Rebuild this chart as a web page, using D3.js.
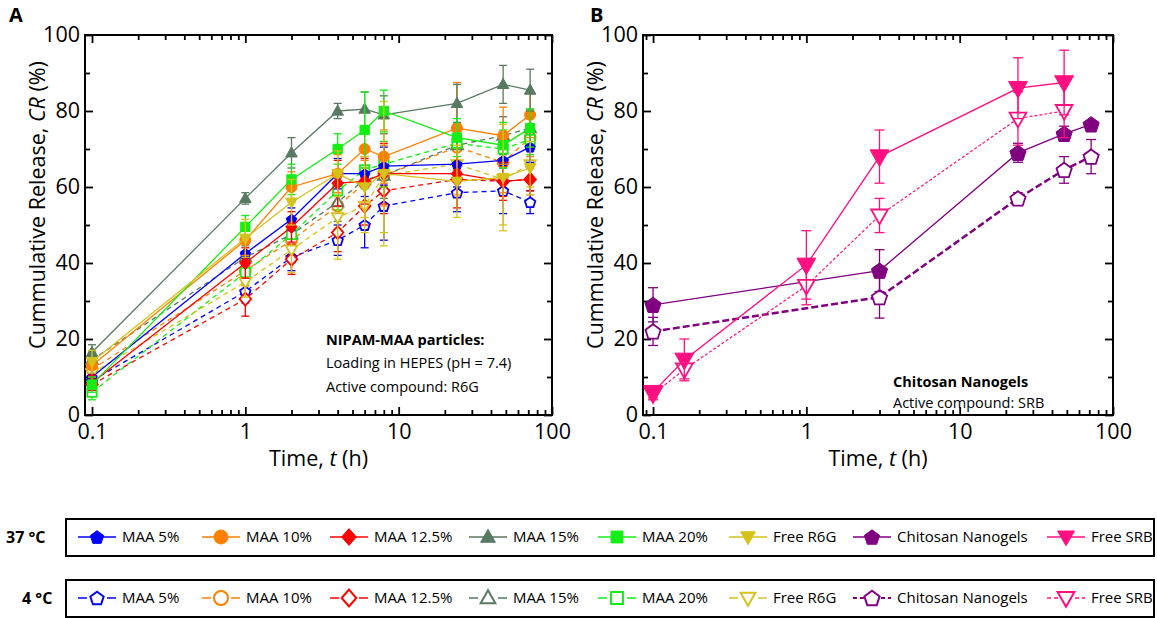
<!DOCTYPE html>
<html>
<head>
<meta charset="utf-8">
<script src="https://cdn.jsdelivr.net/npm/d3@7"></script>
<style>
    body { margin: 0; background: #fff; }
    svg { font-family: "Open Sans", sans-serif; }
</style>
</head>
<body>
<svg id="chart" width="1157" height="618"></svg>
<script>
// ---- data ----
const timesA = [0.1, 1, 2, 4, 6, 8, 24, 48, 72];

// 37 C, NIPAM-MAA particles
const maa5 = [10, 42.5, 51.5, 63.5, 63.5, 65.5, 66, 67, 70.5];
const maa5Err = [2, 3, 3, 4, 6, 5, 6, 6, 4];
const maa10 = [13, 46, 60, 63.5, 70, 68, 75.5, 73.5, 79];
const maa10Err = [3, 4, 4, 5, 5, 7, 12, 7.5, 6];
const maa125 = [8.5, 40, 49.5, 61, 61.5, 63.5, 63.5, 61.5, 62];
const maa125Err = [2, 4, 4, 6, 6, 8, 9, 5, 4];
const maa15 = [16.5, 57, 69, 80, 80.5, 79, 82, 87, 85.5];
const maa15Err = [2, 1.5, 4, 2, 4.5, 5, 5, 5, 5.5];
const maa20 = [8, 49.5, 62, 70, 75, 80, 73, 71, 75.5];
const maa20Err = [2, 3, 4, 4, 10, 5.5, 5, 6, 5];
const r6g = [14, 46.5, 56, 63.5, 60, 63.5, 61.5, 62.5, 65];
const r6gErr = [3, 5, 6, 6, 8, 19, 9.5, 14, 7];

// 4 C
const maa5Cold = [9, 32.5, 41.5, 46, 50, 55, 58.5, 59, 56];
const maa5ColdErr = [2, 3, 3.5, 4, 6, 9, 5, 6, 3];
const maa10Cold = [12, 38, 46, 55, 61, 63, 70.5, 66.5, 73];
const maa10ColdErr = [3, 4, 5, 6, 6, 8, 6, 8, 5];
const maa125Cold = [8, 30.5, 41, 48, 55, 59, 62, 61.5, 62];
const maa125ColdErr = [2, 4.5, 4, 5, 5, 6, 4, 4, 3];
const maa15Cold = [14.5, 41.5, 47.5, 56, 62, 63, 71, 73.5, 75.5];
const maa15ColdErr = [2, 3, 4, 5, 6, 6, 5, 5, 5];
const maa20Cold = [6, 37.5, 47.5, 59, 64.5, 66, 71.5, 70, 72.5];
const maa20ColdErr = [2, 3, 4, 5, 5, 6, 5, 5, 4];
const r6gCold = [11, 35, 43.5, 52, 55, 63, 66, 62, 66];
const r6gColdErr = [3, 4, 6, 11, 7, 15, 8, 12, 6];

// panel B
const timesSRB = [0.1, 0.16, 1, 3, 24, 48];
const srb = [6, 14.5, 39.5, 68, 86, 87.5];
const srbErr = [1.5, 5.5, 9, 7, 8, 8.5];
const srbCold = [5.5, 12, 34, 52.5, 78, 80];
const srbColdErr = [1.5, 2.5, 5, 4.5, 7, 7];
const timesChi = [0.1, 3, 24, 48, 72];
const chi = [29, 38, 69, 74, 76.5];
const chiErr = [4.5, 5.5, 2.5, 2, 0.5];
const chiCold = [22, 31, 57, 64.5, 68];
const chiColdErr = [3.7, 5.5, 1.5, 3.5, 4.5];

const legendNames = ['MAA 5%', 'MAA 10%', 'MAA 12.5%', 'MAA 15%', 'MAA 20%', 'Free R6G', 'Chitosan Nanogels', 'Free SRB'];
const xMajor = [0.1, 1, 10, 100];
const yMajor = [0, 20, 40, 60, 80, 100];
const yMinor = [10, 30, 50, 70, 90];

// ---- styles ----
const colors = {
    blue: '#0000ff', orange: '#ff8000', red: '#ff0000', gray: '#587a62',
    green: '#14ee14', yellow: '#d6c21c', purple: '#800080', pink: '#ff1080'
};

const svg = d3.select('#chart');

function shapePath(shape, r) {
    let pts;
    if (shape === 'circle') {
        return `M${-r},0A${r},${r} 0 1,0 ${r},0A${r},${r} 0 1,0 ${-r},0Z`;
    } else if (shape === 'pentagon') {
        pts = d3.range(5).map(i => {
            const a = -Math.PI / 2 + i * 2 * Math.PI / 5;
            return [r * Math.cos(a), r * Math.sin(a) + r * 0.1];
        });
    } else if (shape === 'diamond') {
        pts = [[0, -r * 1.2], [r * 1.05, 0], [0, r * 1.2], [-r * 1.05, 0]];
    } else if (shape === 'triangle') {
        pts = [[0, -r * 1.1], [r * 1.05, r * 0.75], [-r * 1.05, r * 0.75]];
    } else if (shape === 'triangleDown') {
        pts = [[0, r * 1.1], [r * 1.05, -r * 0.75], [-r * 1.05, -r * 0.75]];
    } else { // square
        const h = r * 0.85;
        pts = [[-h, -h], [h, -h], [h, h], [-h, h]];
    }
    return 'M' + pts.map(p => p.map(v => v.toFixed(2)).join(',')).join('L') + 'Z';
}

function drawSeries(g, x, y, s) {
    const pts = s.t.map((t, i) => ({t: t, v: s.v[i], e: s.e[i]}));
    const eb = g.append('g').attr('stroke', s.color).attr('stroke-width', 1.3);
    eb.selectAll('line.v').data(pts).join('line')
        .attr('x1', d => x(d.t)).attr('x2', d => x(d.t))
        .attr('y1', d => y(d.v - d.e)).attr('y2', d => y(d.v + d.e));
    eb.selectAll('line.top').data(pts).join('line')
        .attr('x1', d => x(d.t) - s.cap).attr('x2', d => x(d.t) + s.cap)
        .attr('y1', d => y(d.v + d.e)).attr('y2', d => y(d.v + d.e));
    eb.selectAll('line.bot').data(pts).join('line')
        .attr('x1', d => x(d.t) - s.cap).attr('x2', d => x(d.t) + s.cap)
        .attr('y1', d => y(d.v - d.e)).attr('y2', d => y(d.v - d.e));

    g.append('path').datum(pts)
        .attr('d', d3.line().x(d => x(d.t)).y(d => y(d.v)))
        .attr('fill', 'none')
        .attr('stroke', s.color)
        .attr('stroke-width', s.width)
        .attr('stroke-dasharray', s.dash);

    g.append('g').selectAll('path').data(pts).join('path')
        .attr('transform', d => `translate(${x(d.t)},${y(d.v)})`)
        .attr('d', shapePath(s.shape, s.r))
        .attr('fill', s.open ? '#fff' : s.color)
        .attr('stroke', s.color)
        .attr('stroke-width', s.open ? 1.8 : 1);
}

function drawAxes(g, x, y) {
    const [x0, x1] = x.range();
    const [y0, y1] = y.range();
    let xMinor = [];
    for (const d of [0.01, 0.1, 1, 10]) {
        for (let k = 2; k <= 9; k++) {
            const v = d * k;
            if (v > x.domain()[0] && v < x.domain()[1]) xMinor.push(v);
        }
    }
    const fmt = d => String(d);
    const style = a => {
        a.select('.domain').remove();
        a.selectAll('.tick line').attr('stroke', '#000').attr('stroke-width', 1.8);
        a.attr('font-family', '"Open Sans", sans-serif').attr('font-size', 21.5);
        a.selectAll('text').attr('fill', '#000');
    };
    g.append('g').attr('transform', `translate(0,${y0})`)
        .call(d3.axisBottom(x).tickValues(xMajor).tickFormat(fmt).tickSize(-8).tickPadding(9)).call(style);
    g.append('g').attr('transform', `translate(0,${y0})`)
        .call(d3.axisBottom(x).tickValues(xMinor).tickFormat('').tickSize(-5)).call(style);
    g.append('g').attr('transform', `translate(0,${y1})`)
        .call(d3.axisTop(x).tickValues(xMajor).tickFormat('').tickSize(-8)).call(style);
    g.append('g').attr('transform', `translate(0,${y1})`)
        .call(d3.axisTop(x).tickValues(xMinor).tickFormat('').tickSize(-5)).call(style);
    g.append('g').attr('transform', `translate(${x0},0)`)
        .call(d3.axisLeft(y).tickValues(yMajor).tickSize(-8).tickPadding(5)).call(style);
    g.append('g').attr('transform', `translate(${x0},0)`)
        .call(d3.axisLeft(y).tickValues(yMinor).tickFormat('').tickSize(-5)).call(style);
    g.append('g').attr('transform', `translate(${x1},0)`)
        .call(d3.axisRight(y).tickValues(yMajor).tickFormat('').tickSize(-8)).call(style);
    g.append('g').attr('transform', `translate(${x1},0)`)
        .call(d3.axisRight(y).tickValues(yMinor).tickFormat('').tickSize(-5)).call(style);

    g.append('rect')
        .attr('x', x0).attr('y', y1).attr('width', x1 - x0).attr('height', y0 - y1)
        .attr('fill', 'none').attr('stroke', '#000').attr('stroke-width', 2);

    // axis titles
    const cx = (x0 + x1) / 2;
    const xt = g.append('text').attr('x', cx).attr('y', y0 + 51)
        .attr('text-anchor', 'middle').attr('font-size', 21.5);
    xt.append('tspan').text('Time, ');
    xt.append('tspan').attr('font-style', 'italic').text('t');
    xt.append('tspan').text(' (h)');

    const yt = g.append('text')
        .attr('transform', `translate(${x0 - 40},${(y0 + y1) / 2 - 20}) rotate(-90)`)
        .attr('text-anchor', 'middle').attr('font-size', 21.5);
    yt.append('tspan').text('Cummulative Release, ');
    yt.append('tspan').attr('font-style', 'italic').text('CR');
    yt.append('tspan').text(' (%)');
}

// ---- panel A ----
const xA = d3.scaleLog().domain([0.09, 100]).range([85, 552]);
const yA = d3.scaleLinear().domain([0, 100]).range([415, 35]);
const gA = svg.append('g');

const optsA = {cap: 4, width: 1.3, r: 5.5};
const coldA = [
    {v: maa5Cold, e: maa5ColdErr, color: colors.blue, shape: 'pentagon'},
    {v: maa10Cold, e: maa10ColdErr, color: colors.orange, shape: 'circle'},
    {v: maa125Cold, e: maa125ColdErr, color: colors.red, shape: 'diamond'},
    {v: maa15Cold, e: maa15ColdErr, color: colors.gray, shape: 'triangle'},
    {v: maa20Cold, e: maa20ColdErr, color: colors.green, shape: 'square'},
    {v: r6gCold, e: r6gColdErr, color: colors.yellow, shape: 'triangleDown'}
];
const warmA = [
    {v: maa5, e: maa5Err, color: colors.blue, shape: 'pentagon'},
    {v: maa10, e: maa10Err, color: colors.orange, shape: 'circle'},
    {v: maa125, e: maa125Err, color: colors.red, shape: 'diamond'},
    {v: maa15, e: maa15Err, color: colors.gray, shape: 'triangle'},
    {v: maa20, e: maa20Err, color: colors.green, shape: 'square'},
    {v: r6g, e: r6gErr, color: colors.yellow, shape: 'triangleDown'}
];
drawAxes(gA, xA, yA);
for (const s of coldA) {
    drawSeries(gA, xA, yA, Object.assign({t: timesA, open: true, dash: '5,4'}, optsA, s));
}
for (const s of warmA) {
    drawSeries(gA, xA, yA, Object.assign({t: timesA, open: false, dash: null}, optsA, s));
}

// ---- panel B ----
const xB = d3.scaleLog().domain([0.086, 100]).range([643, 1113]);
const yB = d3.scaleLinear().domain([0, 100]).range([415, 35]);
const gB = svg.append('g');
drawAxes(gB, xB, yB);
drawSeries(gB, xB, yB, {t: timesChi, v: chiCold, e: chiColdErr, color: colors.purple, shape: 'pentagon',
    open: true, dash: '7,3', width: 2.5, r: 8, cap: 5});
drawSeries(gB, xB, yB, {t: timesChi, v: chi, e: chiErr, color: colors.purple, shape: 'pentagon',
    open: false, dash: null, width: 1.3, r: 8.5, cap: 5});
drawSeries(gB, xB, yB, {t: timesSRB, v: srbCold, e: srbColdErr, color: colors.pink, shape: 'triangleDown',
    open: true, dash: '3,2', width: 1.2, r: 8, cap: 5});
drawSeries(gB, xB, yB, {t: timesSRB, v: srb, e: srbErr, color: colors.pink, shape: 'triangleDown',
    open: false, dash: null, width: 1.3, r: 9, cap: 5});

// ---- panel letters + notes ----
svg.append('text').attr('x', 9).attr('y', 22).attr('font-size', 20).attr('font-weight', 'bold').text('A');
svg.append('text').attr('x', 590).attr('y', 22).attr('font-size', 20).attr('font-weight', 'bold').text('B');

const noteA = svg.append('g').attr('font-size', 14.5);
noteA.append('text').attr('x', 326).attr('y', 345).attr('font-weight', 'bold').text('NIPAM-MAA particles:');
noteA.append('text').attr('x', 326).attr('y', 368).text('Loading in HEPES (pH = 7.4)');
noteA.append('text').attr('x', 326).attr('y', 392).text('Active compound: R6G');

const noteB = svg.append('g').attr('font-size', 14.5);
noteB.append('text').attr('x', 893).attr('y', 387).attr('font-weight', 'bold').text('Chitosan Nanogels');
noteB.append('text').attr('x', 893).attr('y', 408).text('Active compound: SRB');

// ---- legends ----
const legendStyle = [
    {color: colors.blue, shape: 'pentagon'},
    {color: colors.orange, shape: 'circle'},
    {color: colors.red, shape: 'diamond'},
    {color: colors.gray, shape: 'triangle'},
    {color: colors.green, shape: 'square'},
    {color: colors.yellow, shape: 'triangleDown'},
    {color: colors.purple, shape: 'pentagon'},
    {color: colors.pink, shape: 'triangleDown'}
];
const legendSlots = [78, 202, 330, 469, 598, 729, 853, 1047];

function drawLegend(top, label, labelX, open) {
    const g = svg.append('g');
    g.append('rect').attr('x', 66).attr('y', top).attr('width', 1088).attr('height', 37)
        .attr('fill', 'none').attr('stroke', '#000').attr('stroke-width', 2);
    g.append('text').attr('x', labelX).attr('y', top + 24)
        .attr('font-size', 16).attr('font-weight', 'bold').text(label);
    const cy = top + 18;
    legendNames.forEach((name, i) => {
        const lx = legendSlots[i];
        const st = legendStyle[i];
        g.append('line').attr('x1', lx).attr('x2', lx + 38).attr('y1', cy).attr('y2', cy)
            .attr('stroke', st.color).attr('stroke-width', i === 6 && open ? 2 : 1.3)
            .attr('stroke-dasharray', open ? (i >= 6 ? '4,3' : '9,20') : null);
        g.append('path').attr('transform', `translate(${lx + 19},${cy})`)
            .attr('d', shapePath(st.shape, i >= 6 ? 8 : 7))
            .attr('fill', open ? '#fff' : st.color)
            .attr('stroke', st.color).attr('stroke-width', open ? 2 : 1);
        g.append('text').attr('x', lx + 44).attr('y', cy + 5).attr('font-size', 15).text(name);
    });
}
drawLegend(519, '37 °C', 6, false);
drawLegend(580, '4 °C', 22, true);
</script>
</body>
</html>
